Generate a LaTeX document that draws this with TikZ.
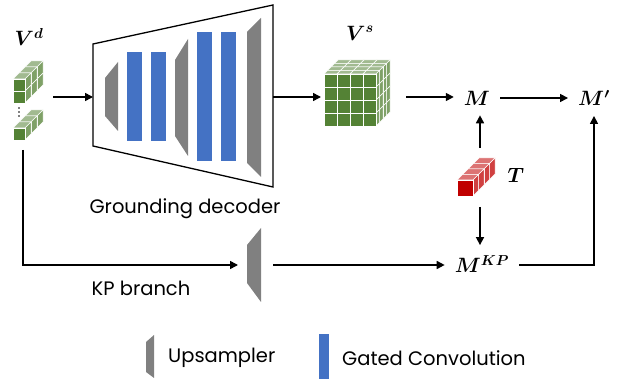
\documentclass[tikz,border=0pt]{standalone}
\usepackage{fontspec}
\setmainfont{Poppins}
\usepackage{amsmath,bm}
\usetikzlibrary{arrows.meta}

\definecolor{vgreen}{HTML}{548235}
\definecolor{tred}{HTML}{C00000}
\definecolor{gconv}{HTML}{4472C4}
\definecolor{upgray}{HTML}{808080}

\newcommand{\voxel}[5]{%
  \filldraw[fill=#5!55!white, draw=white, line width=.5pt] ({#1},{#2}) -- ++(#4,-#4) -- ++(#3,0) -- ++(-#4,#4) -- cycle;
  \filldraw[fill=#5!75!white, draw=white, line width=.5pt] ({#1+#3},{#2}) -- ++(#4,-#4) -- ++(0,#3) -- ++(-#4,#4) -- cycle;
  \filldraw[fill=#5, draw=white, line width=.5pt] ({#1},{#2}) rectangle ++(#3,#3);
}

\begin{document}
\begin{tikzpicture}[x=1pt, y=-1pt,
  arr/.style = {line width=1.6pt, -{Triangle[length=8pt,width=8pt]}},
  sym/.style = {inner sep=10pt, font=\fontsize{20.5}{24}\selectfont},
  lbl/.style = {inner sep=0pt, font=\fontsize{19.5}{23}\selectfont},
  upsampler/.style = {fill=upgray},
  gatedconv/.style = {fill=gconv},]

\useasboundingbox (0,0) rectangle (619,379);

\foreach \k in {2,1,0} {\foreach \j in {0,1} {\voxel{13+\k*6}{91-\j*12-\k*6}{12}{6}{vgreen}}}
\foreach \y in {108,112,116} {\fill (19,\y) circle (.9);}
\foreach \k in {2,1,0} {\voxel{13+\k*6}{128-\k*6}{12}{6}{vgreen}}
\node[sym, inner sep=0pt] (vd) at (29,37) {$\bm{V^{d}}$};

\draw[line width=1.3pt] (93,44) -- (273,5) -- (273,187) -- (93,146) -- cycle;
\fill[upsampler] (105,78) -- (118,62) -- (118,131) -- (105,116) -- cycle;
\fill[gatedconv] (127,52) rectangle (142,141);
\fill[gatedconv] (151,52) rectangle (166,141);
\fill[upsampler] (175,60) -- (188,39) -- (188,156) -- (175,136) -- cycle;
\fill[gatedconv] (197,32) rectangle (212,161);
\fill[gatedconv] (221,32) rectangle (236,161);
\fill[upsampler] (247,32) -- (261,18) -- (261,177) -- (247,163) -- cycle;
\node[lbl] (gdlabel) at (185,209) {Grounding decoder};

\foreach \k in {3,2,1,0} {\foreach \j in {0,1,2,3} {\foreach \i in {0,1,2,3}
  {\voxel{324+\i*13+\k*3.5}{74+(3-\j)*13-\k*3.5}{13}{3.5}{vgreen}}}}
\node[sym, inner sep=0pt] (vs) at (360,33) {$\bm{V^{s}}$};

\foreach \k in {3,2,1,0} {\voxel{457+\k*5.5}{180-\k*5.5}{16}{5.5}{tred}}
\node[sym, inner sep=0pt] (t) at (516,175) {$\bm{T}$};

\node[sym] (m) at (477,98) {$\bm{M}$};
\node[sym] (mp) at (594,98) {$\bm{M'}$};
\node[sym] (mkp) at (482,264) {$\bm{M^{KP}}$};

\fill[upsampler] (247,245) -- (261,228) -- (261,302) -- (247,283) -- cycle;
\node[lbl] (kplabel) at (141,288) {KP branch};

\coordinate (vdout) at (53,97);
\coordinate (decin) at (93,97);
\coordinate (decout) at (273,97);
\coordinate (vsin) at (321,97);
\coordinate (vsout) at (406,97);
\coordinate (ttop) at (480,148);
\coordinate (tbot) at (480,207);
\coordinate (vdbot) at (23,150);
\coordinate (upin) at (238,265);
\coordinate (upout) at (273,265);

\draw[arr] (vdout) -- (decin);
\draw[arr] (decout) -- (vsin);
\draw[arr] (vsout) -- (vsout -| m.west);
\draw[arr] (m.east) -- (m.east -| mp.west);
\draw[arr] (ttop) -- (ttop |- m.south);
\draw[arr] (tbot) -- (tbot |- mkp.north);
\draw[arr] (vdbot) |- (upin);
\draw[arr] (upout) -- (upout -| mkp.west);
\draw[arr] (mkp.east |- upout) -| (mp.south);

\fill[upsampler] (146,342) -- (154,335) -- (154,378) -- (146,372) -- cycle;
\node[lbl, anchor=west] (uplegend) at (168,358) {Upsampler};
\fill[gatedconv] (319,334) rectangle (329,379);
\node[lbl, anchor=west] (gclegend) at (342,358) {Gated Convolution};

\end{tikzpicture}
\end{document}
